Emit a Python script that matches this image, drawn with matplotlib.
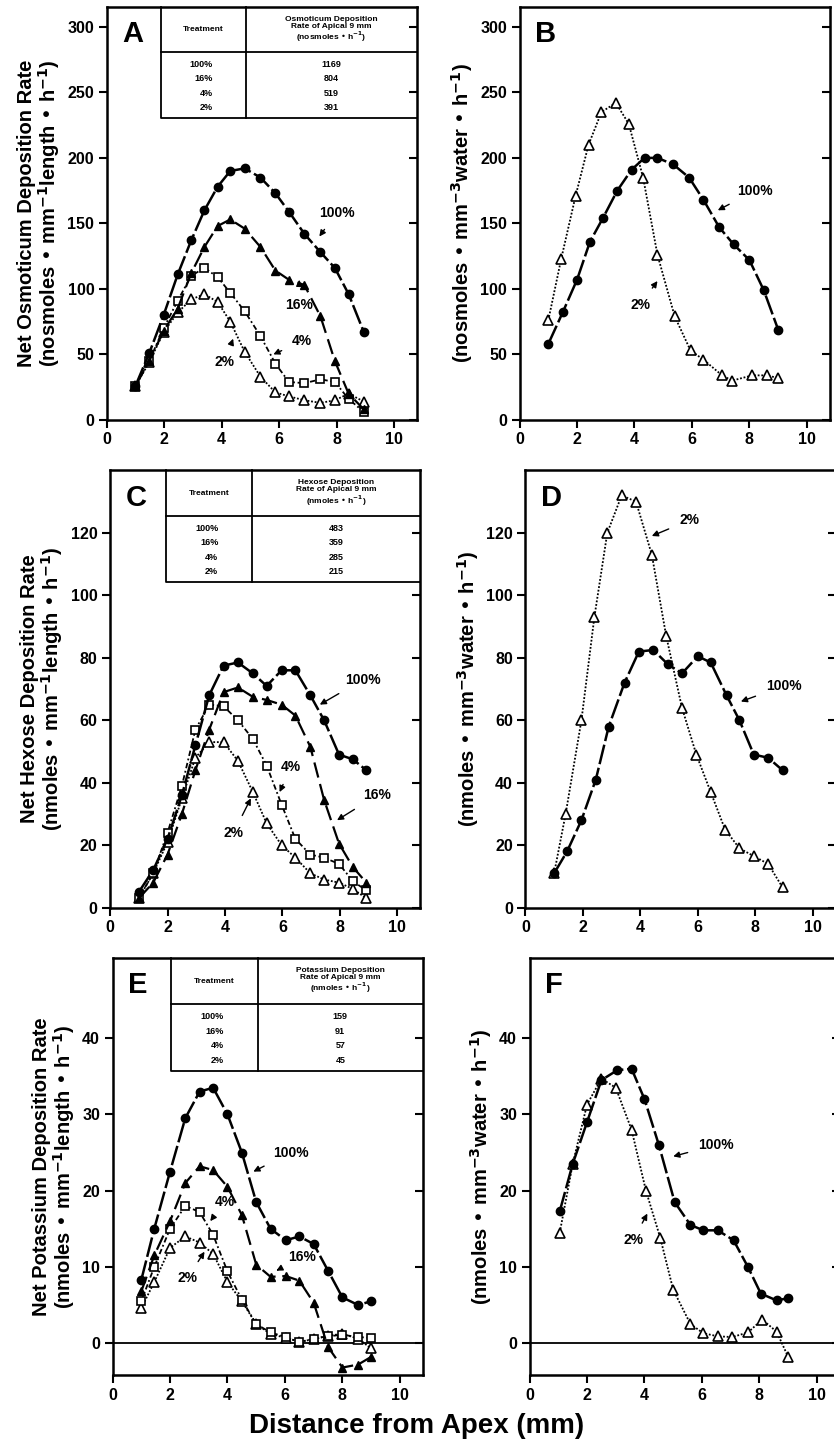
import matplotlib
matplotlib.use('Agg')
import matplotlib.pyplot as plt

plt.rcParams['font.family'] = ['Liberation Sans', 'DejaVu Sans']
plt.rcParams['font.weight'] = 'bold'

# ---- data: panel A (osmoticum per length) ----
xA = [1.0, 1.48, 1.98, 2.47, 2.94, 3.4, 3.86, 4.3, 4.8, 5.35, 5.87, 6.34, 6.88, 7.44, 7.94, 8.42, 8.95]
A_100 = [26, 51, 80, 111, 137, 160, 178, 190, 192, 185, 173, 159, 142, 128, 116, 96, 67]
A_16 = [26, 45, 68, 85, 112, 132, 148, 153, 146, 132, 114, 107, 103, 79, 45, 20, 8]
A_4 = [26, 45, 70, 91, 110, 116, 109, 97, 83, 64, 43, 29, 28, 31, 29, 16, 6]
A_2 = [26, 44, 67, 82, 92, 96, 90, 75, 52, 33, 21, 18, 15, 13, 15, 20, 14]
# panel B (osmoticum per water)
xB100 = [1.0, 1.5, 2.0, 2.45, 2.9, 3.4, 3.9, 4.35, 4.8, 5.35, 5.9, 6.4, 6.95, 7.45, 8.0, 8.5, 9.0]
B_100 = [58, 82, 107, 136, 154, 175, 191, 200, 200, 195, 185, 168, 147, 134, 122, 99, 69]
xB2 = [1.0, 1.45, 1.95, 2.4, 2.85, 3.35, 3.8, 4.3, 4.8, 5.4, 5.95, 6.4, 7.05, 7.4, 8.1, 8.6, 9.0]
B_2 = [76, 123, 171, 210, 235, 242, 226, 185, 126, 79, 53, 46, 34, 30, 34, 34, 32]
# panel C (hexose per length)
xC = [1.0, 1.5, 2.0, 2.5, 2.97, 3.45, 3.95, 4.45, 4.97, 5.45, 5.97, 6.45, 6.97, 7.45, 7.97, 8.45, 8.92]
C_100 = [5, 12, 22, 36, 52, 68, 77.5, 78.5, 75, 71, 76, 76, 68, 60, 49, 47.5, 44]
C_16 = [3, 8, 17, 30, 44, 57, 69, 70.5, 67.5, 66.5, 65, 61.5, 51.5, 34.5, 20.5, 13, 8]
C_4 = [3, 11, 24, 39, 57, 65, 64.5, 60, 54, 45.5, 33, 22, 17, 16, 14, 8.5, 5.5]
C_2 = [3, 11, 21, 35, 48, 53, 53, 47, 37, 27, 20, 16, 11, 9, 8, 6, 3]
# panel D (hexose per water)
xD100 = [1.0, 1.45, 1.95, 2.45, 2.9, 3.45, 3.95, 4.45, 4.95, 5.45, 6.0, 6.45, 7.0, 7.45, 7.95, 8.45, 8.95]
D_100 = [11, 18, 28, 41, 58, 72, 82, 82.5, 78, 75, 80.5, 78.5, 68, 60, 49, 48, 44]
xD2 = [1.0, 1.4, 1.95, 2.4, 2.85, 3.35, 3.85, 4.4, 4.9, 5.45, 5.95, 6.45, 6.95, 7.45, 7.95, 8.45, 8.95]
D_2 = [11, 30, 60, 93, 120, 132, 130, 113, 87, 64, 49, 37, 25, 19, 16.5, 14, 6.5]
# panel E (potassium per length)
xE = [1.0, 1.45, 2.0, 2.53, 3.03, 3.5, 4.0, 4.5, 5.0, 5.5, 6.03, 6.5, 7.0, 7.5, 8.0, 8.55, 9.0]
E_100 = [8.3, 15, 22.5, 29.5, 33, 33.5, 30, 25, 18.5, 15, 13.5, 14, 13, 9.5, 6, 5, 5.5]
E_16 = [6.8, 11.5, 16, 21, 23.2, 22.7, 20.5, 16.8, 10.3, 8.7, 8.8, 8.2, 5.3, -0.5, -3.2, -2.8, -1.8]
E_4 = [5.5, 10, 15, 18, 17.2, 14.2, 9.4, 5.7, 2.5, 1.4, 0.8, 0.1, 0.6, 0.9, 1.1, 0.8, 0.7]
E_2 = [4.6, 8, 12.5, 14, 13.2, 11.7, 8, 5.5, 2.5, 1.2, 0.7, 0.2, 0.5, 1.0, 1.2, 0.6, -0.7]
# panel F (potassium per water)
xF100 = [1.05, 1.5, 2.0, 2.5, 3.05, 3.55, 4.0, 4.5, 5.05, 5.6, 6.05, 6.55, 7.1, 7.6, 8.05, 8.6, 9.0]
F_100 = [17.3, 23.5, 29, 34.5, 35.8, 36, 32, 26, 18.5, 15.5, 14.8, 14.8, 13.5, 10, 6.5, 5.6, 5.9]
xF2 = [1.05, 1.5, 2.0, 2.5, 3.0, 3.55, 4.05, 4.55, 5.0, 5.6, 6.05, 6.55, 7.05, 7.6, 8.1, 8.6, 9.0]
F_2 = [14.5, 23.5, 31.3, 34.7, 33.5, 28, 20, 13.8, 7, 2.5, 1.3, 0.9, 0.8, 1.4, 3.1, 1.5, -1.8]

treat = ['100%', '16%', '4%', '2%']
tabA = ['1169', '804', '519', '391']
tabC = ['483', '359', '285', '215']
tabE = ['159', '91', '57', '45']

s100 = dict(color='k', lw=1.8, ls=(0, (8, 1.5)), marker='o', ms=6, mfc='k')
s16 = dict(color='k', lw=1.6, ls=(0, (7, 3)), marker='^', ms=6, mfc='k')
s4 = dict(color='k', lw=1.3, ls=(0, (3, 1.5, 1, 1.5)), marker='s', ms=6, mfc='white', mew=1.2)
s2 = dict(color='k', lw=1.3, ls=(0, (1, 1)), marker='^', ms=7, mfc='white', mew=1.2)

fig = plt.figure(figsize=(8.34, 14.43), dpi=100)

def setup(ax, ylim, yticks, letter, ylabel):
    ax.set_xlim(0, 10.8)
    ax.set_ylim(*ylim)
    ax.set_xticks([0, 2, 4, 6, 8, 10])
    ax.set_yticks(yticks)
    ax.tick_params(axis='both', labelsize=11.5, width=1.5, length=6, direction='out', pad=3)
    for sp in ax.spines.values():
        sp.set_linewidth(1.8)
    for t in ax.get_xticklabels() + ax.get_yticklabels():
        t.set_fontweight('bold')
    sec = ax.secondary_yaxis('right')
    sec.set_yticks(yticks)
    sec.tick_params(direction='in', length=6, width=1.5, labelright=False)
    ax.text(0.05, 0.97, letter, transform=ax.transAxes, fontsize=21, fontweight='bold', va='top')
    ax.set_ylabel(ylabel, fontsize=14.5, fontweight='bold', linespacing=1.0, labelpad=4)

def table(ax, left, div, hy, bot, header, vals):
    kw = dict(transform=ax.transAxes, color='k', lw=1.3, clip_on=False)
    ax.plot([left, left, 1.0], [1.0, bot, bot], **kw)
    ax.plot([div, div], [1.0, bot], **kw)
    ax.plot([left, 1.0], [hy, hy], **kw)
    ax.text((left + div) / 2, (1 + hy) / 2, 'Treatment', transform=ax.transAxes,
            ha='center', va='center', fontsize=6, fontweight='bold')
    ax.text((div + 1) / 2, (1 + hy) / 2, header, transform=ax.transAxes,
            ha='center', va='center', fontsize=6, fontweight='bold', linespacing=1.0)
    step = (hy - bot) / 4.6
    for i, (t, v) in enumerate(zip(treat, vals)):
        yy = hy - step * (0.85 + i)
        ax.text((left + div) / 2 + 0.03, yy, t, transform=ax.transAxes, ha='right',
                va='center', fontsize=6.5, fontweight='bold')
        ax.text((div + 1) / 2, yy, v, transform=ax.transAxes, ha='center',
                va='center', fontsize=6.5, fontweight='bold')

def note(ax, txt, xy, xytext):
    ax.annotate(txt, xy=xy, xytext=xytext, fontsize=10, fontweight='bold',
                ha='center', va='center',
                arrowprops=dict(arrowstyle='-|>', color='k', lw=1.0, mutation_scale=9,
                                shrinkA=6, shrinkB=0))

# A
ax = fig.add_axes([0.128, 0.709, 0.372, 0.286])
ax.plot(xA, A_2, **s2); ax.plot(xA, A_4, **s4); ax.plot(xA, A_16, **s16); ax.plot(xA, A_100, **s100)
setup(ax, (0, 315), [0, 50, 100, 150, 200, 250, 300], 'A',
      'Net Osmoticum Deposition Rate\n(nosmoles • mm$^{-1}$length • h$^{-1}$)')
table(ax, 0.174, 0.45, 0.891, 0.731, 'Osmoticum Deposition\nRate of Apical 9 mm\n(nosmoles • h$^{-1}$)', tabA)
note(ax, '100%', (7.4, 140), (8.0, 158))
note(ax, '16%', (6.7, 107), (6.7, 88))
note(ax, '4%', (5.8, 50), (6.8, 60))
note(ax, '2%', (4.4, 62), (4.1, 44))

# B
ax = fig.add_axes([0.623, 0.709, 0.372, 0.286])
ax.plot(xB2, B_2, **s2); ax.plot(xB100, B_100, **s100)
setup(ax, (0, 315), [0, 50, 100, 150, 200, 250, 300], 'B',
      '(nosmoles • mm$^{-3}$water • h$^{-1}$)')
note(ax, '100%', (6.9, 160), (8.2, 175))
note(ax, '2%', (4.8, 106), (4.2, 88))

# C
ax = fig.add_axes([0.132, 0.371, 0.372, 0.303])
ax.plot(xC, C_2, **s2); ax.plot(xC, C_4, **s4); ax.plot(xC, C_16, **s16); ax.plot(xC, C_100, **s100)
setup(ax, (0, 140), [0, 20, 40, 60, 80, 100, 120], 'C',
      'Net Hexose Deposition Rate\n(nmoles • mm$^{-1}$length • h$^{-1}$)')
table(ax, 0.18, 0.458, 0.895, 0.744, 'Hexose Deposition\nRate of Apical 9 mm\n(nmoles • h$^{-1}$)', tabC)
note(ax, '100%', (7.3, 65), (8.8, 73))
note(ax, '16%', (7.9, 28), (9.3, 36))
note(ax, '4%', (5.9, 37), (6.3, 45))
note(ax, '2%', (4.9, 35), (4.3, 24))

# D
ax = fig.add_axes([0.630, 0.371, 0.372, 0.303])
ax.plot(xD2, D_2, **s2); ax.plot(xD100, D_100, **s100)
setup(ax, (0, 140), [0, 20, 40, 60, 80, 100, 120], 'D',
      '(nmoles • mm$^{-3}$water • h$^{-1}$)')
note(ax, '2%', (4.4, 119), (5.7, 124))
note(ax, '100%', (7.5, 66), (9.0, 71))

# E
ax = fig.add_axes([0.135, 0.047, 0.372, 0.289])
ax.axhline(0, color='k', lw=1.3)
ax.plot(xE, E_2, **s2); ax.plot(xE, E_4, **s4); ax.plot(xE, E_16, **s16); ax.plot(xE, E_100, **s100)
setup(ax, (-4.2, 50.5), [0, 10, 20, 30, 40], 'E',
      'Net Potassium Deposition Rate\n(nmoles • mm$^{-1}$length • h$^{-1}$)')
table(ax, 0.187, 0.468, 0.89, 0.729, 'Potassium Deposition\nRate of Apical 9 mm\n(nmoles • h$^{-1}$)', tabE)
note(ax, '100%', (4.9, 22.5), (6.2, 25))
note(ax, '16%', (5.7, 9.5), (6.6, 11.3))
note(ax, '4%', (3.4, 16), (3.9, 18.5))
note(ax, '2%', (3.2, 12), (2.6, 8.5))

# F
ax = fig.add_axes([0.635, 0.047, 0.372, 0.289])
ax.axhline(0, color='k', lw=1.3)
ax.plot(xF2, F_2, **s2); ax.plot(xF100, F_100, **s100)
setup(ax, (-4.2, 50.5), [0, 10, 20, 30, 40], 'F',
      '(nmoles • mm$^{-3}$water • h$^{-1}$)')
note(ax, '100%', (5.0, 24.5), (6.5, 26))
note(ax, '2%', (4.1, 17), (3.6, 13.5))

fig.text(0.5, 0.003, 'Distance from Apex (mm)', ha='center', va='bottom',
         fontsize=20, fontweight='bold')

fig.savefig('out.png', dpi=100)
